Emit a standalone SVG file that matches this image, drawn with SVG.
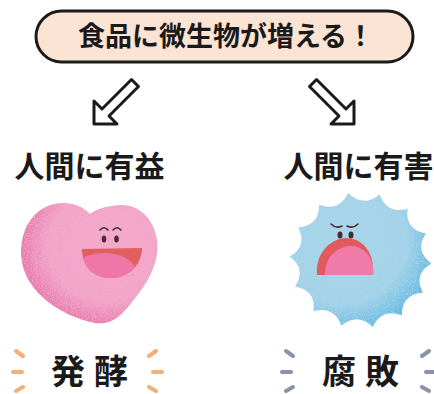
<svg xmlns="http://www.w3.org/2000/svg" width="434" height="394" viewBox="0 0 434 394">
  <defs>
    <style>
      .jp { font-family: "Noto Sans CJK JP", "Noto Sans", sans-serif; font-weight: 700; fill: #1a1a1a; }
      .arrow { fill: #ffffff; stroke: #1a1a1a; stroke-width: 3; stroke-linejoin: round; }
      .spark-o { stroke: #f4ae78; stroke-width: 4; stroke-linecap: round; }
      .spark-g { stroke: #8a93ab; stroke-width: 4; stroke-linecap: round; }
      .eye { fill: #4a2a2a; }
      .brow { fill: none; stroke: #4a2a2a; stroke-width: 1.6; stroke-linecap: round; }
    </style>
    <radialGradient id="heartFill" cx="0.66" cy="0.36" r="0.75">
      <stop offset="0" stop-color="#f3a8ca"/>
      <stop offset="0.62" stop-color="#f2a4c7"/>
      <stop offset="1" stop-color="#e36aa2"/>
    </radialGradient>
    <radialGradient id="germFill" cx="0.36" cy="0.36" r="0.78">
      <stop offset="0" stop-color="#a8d5e9"/>
      <stop offset="0.6" stop-color="#a3d2e8"/>
      <stop offset="1" stop-color="#4aaee0"/>
    </radialGradient>
    <!-- fine speckle used for the shaded rims -->
    <filter id="grainPink" x="0" y="0" width="1" height="1">
      <feTurbulence type="fractalNoise" baseFrequency="0.9" numOctaves="2" seed="4" result="n"/>
      <feColorMatrix in="n" type="matrix" values="0 0 0 0 0  0 0 0 0 0  0 0 0 0 0  6 0 0 0 -3.1" result="a"/>
      <feFlood flood-color="#f4afcf"/>
      <feComposite operator="in" in2="a"/>
      <feComposite operator="in" in2="SourceAlpha"/>
    </filter>
    <filter id="grainBlue" x="0" y="0" width="1" height="1">
      <feTurbulence type="fractalNoise" baseFrequency="0.9" numOctaves="2" seed="9" result="n"/>
      <feColorMatrix in="n" type="matrix" values="0 0 0 0 0  0 0 0 0 0  0 0 0 0 0  6 0 0 0 -3.1" result="a"/>
      <feFlood flood-color="#acd8ec"/>
      <feComposite operator="in" in2="a"/>
      <feComposite operator="in" in2="SourceAlpha"/>
    </filter>
    <path id="arrowShape" d="M94,124 L94,101 L102,109 L131.5,79.5 L138.5,86.5 L109,116 L117,124 Z"/>
    <path id="heartBody" d="M90,214 C80,203 62,200 48,206 C28,214 18,238 22,262 C27,292 60,316 95,323 C110,325 120,318 132,302 C148,283 160,262 157,240 C154,218 138,204 120,205 C106,206 96,209 90,214 Z"/>
    <path id="germBody" d="M348.2,193.0 Q363.2,207.9 379.7,194.5 Q386.6,214.2 407.5,209.0 Q404.8,229.5 425.9,233.6 Q414.2,250.9 431.4,263.4 Q413.0,274.1 422.9,292.5 Q401.4,294.5 401.9,315.2 Q381.7,308.1 372.8,327.0 Q357.8,312.1 341.3,325.5 Q334.4,305.8 313.5,311.0 Q316.3,290.5 295.1,286.4 Q306.8,269.1 289.6,256.6 Q308.0,245.9 298.2,227.5 Q319.6,225.5 319.1,204.8 Q339.3,211.9 348.2,193.0 Z"/>
    <clipPath id="heartMouth">
      <path d="M82,249 L142,248 C142,265 128,278 111,278 C93,278 82,266 82,249 Z"/>
    </clipPath>
    <clipPath id="germMouth">
      <path d="M317,275 C315,251 333,238 346,238 C362,238 375,252 373,275 Z"/>
    </clipPath>
  </defs>

  <rect width="434" height="394" fill="#ffffff"/>

  <!-- headline pill -->
  <g id="title">
    <rect x="36" y="11" width="377" height="51" rx="25.5" fill="#fce4d4" stroke="#1a1a1a" stroke-width="3"/>
    <text class="jp" x="226" y="46" font-size="27" text-anchor="middle">食品に微生物が増える！</text>
  </g>

  <!-- branching arrows -->
  <g id="connectors">
    <use href="#arrowShape" class="arrow"/>
    <use href="#arrowShape" class="arrow" transform="translate(448,0) scale(-1,1)"/>
  </g>

  <g id="label-benefit">
    <text class="jp" x="89.5" y="177" font-size="30" text-anchor="middle">人間に有益</text>
  </g>
  <g id="label-harm">
    <text class="jp" x="358.5" y="177" font-size="30" text-anchor="middle">人間に有害</text>
  </g>

  <!-- happy heart microbe -->
  <g id="heart">
    <use href="#heartBody" fill="url(#heartFill)"/>
    <use href="#heartBody" fill="#000" filter="url(#grainPink)" opacity="0.7"/>
    <path class="brow" d="M100,230 Q104,225.5 108,230"/>
    <path class="brow" d="M113,230 Q117,225.5 121,230"/>
    <ellipse class="eye" cx="104" cy="239" rx="2.3" ry="3.6"/>
    <ellipse class="eye" cx="116.5" cy="239" rx="2.3" ry="3.6"/>
    <path d="M82,249 L142,248 C142,265 128,278 111,278 C93,278 82,266 82,249 Z" fill="#e0605f"/>
    <ellipse cx="104" cy="272" rx="32" ry="19" fill="#ef76a6" clip-path="url(#heartMouth)"/>
  </g>

  <!-- worried spiky microbe -->
  <g id="germ">
    <use href="#germBody" fill="url(#germFill)"/>
    <use href="#germBody" fill="#000" filter="url(#grainBlue)" opacity="0.7"/>
    <path class="brow" d="M331,224 Q336,229 342,226"/>
    <path class="brow" d="M347,226 Q353,229 358,224"/>
    <ellipse class="eye" cx="340" cy="235" rx="2.5" ry="3.6"/>
    <ellipse class="eye" cx="351" cy="235" rx="2.5" ry="3.6"/>
    <path d="M317,275 C315,251 333,238 346,238 C362,238 375,252 373,275 Z" fill="#e05a5e"/>
    <path d="M325,276 C324,257 338,246 351,246 C365,246 375,259 374,276 Z" fill="#f07aa8" clip-path="url(#germMouth)"/>
  </g>

  <!-- outcome: fermentation -->
  <g id="fermentation">
    <line class="spark-o" x1="16" y1="351" x2="23" y2="356"/>
    <line class="spark-o" x1="13" y1="372" x2="22" y2="372"/>
    <line class="spark-o" x1="16" y1="391" x2="23" y2="387"/>
    <line class="spark-o" x1="156" y1="351" x2="149" y2="356"/>
    <line class="spark-o" x1="162" y1="372" x2="153" y2="372"/>
    <line class="spark-o" x1="156" y1="391" x2="149" y2="387"/>
    <text class="jp" x="51" y="384" font-size="34" letter-spacing="9">発酵</text>
  </g>

  <!-- outcome: spoilage -->
  <g id="spoilage">
    <line class="spark-g" x1="286" y1="351" x2="293" y2="356"/>
    <line class="spark-g" x1="282" y1="372" x2="291" y2="372"/>
    <line class="spark-g" x1="286" y1="391" x2="293" y2="387"/>
    <line class="spark-g" x1="429" y1="351" x2="422" y2="356"/>
    <line class="spark-g" x1="434" y1="372" x2="426" y2="372"/>
    <line class="spark-g" x1="429" y1="391" x2="422" y2="387"/>
    <text class="jp" x="322" y="384" font-size="34" letter-spacing="9">腐敗</text>
  </g>
</svg>
